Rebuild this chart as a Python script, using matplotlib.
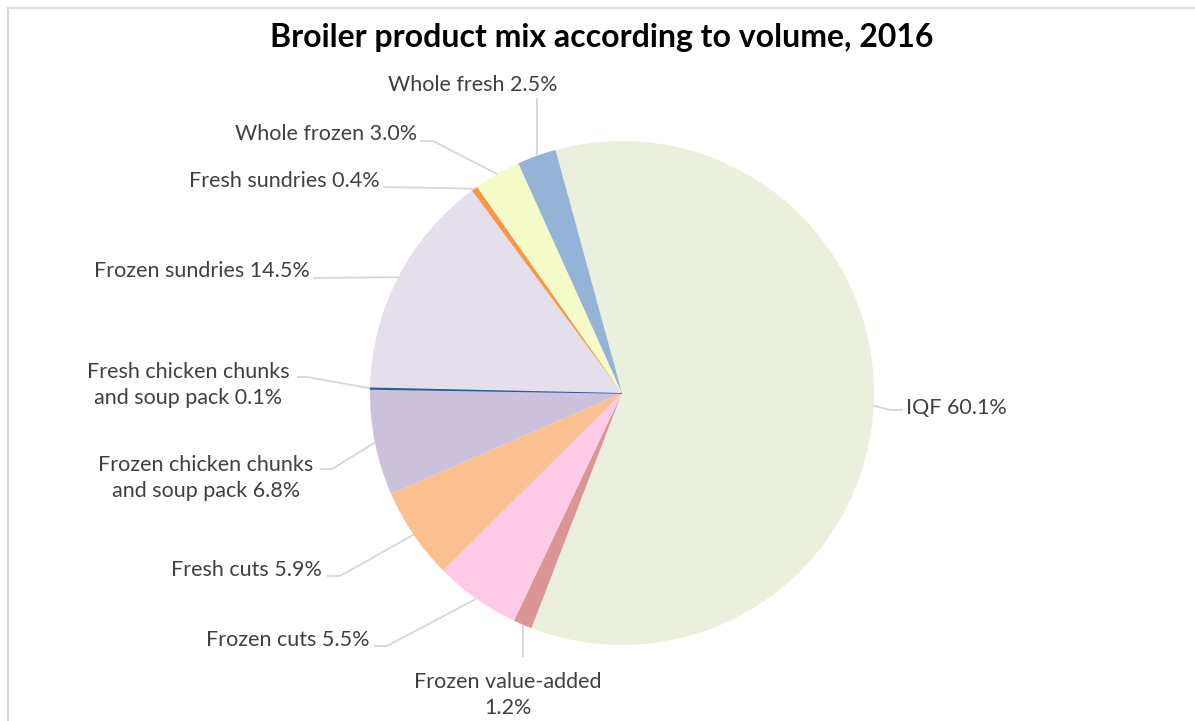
import numpy as np
import matplotlib
matplotlib.use("Agg")
import matplotlib.pyplot as plt

plt.rcParams['font.family'] = ['Lato', 'DejaVu Sans']

# --- data (clockwise from the IQF slice) ---
categories = ['IQF', 'Frozen value-added', 'Frozen cuts', 'Fresh cuts',
              'Frozen chicken chunks\nand soup pack', 'Fresh chicken chunks\nand soup pack',
              'Frozen sundries', 'Fresh sundries', 'Whole frozen', 'Whole fresh']
shares = [60.1, 1.2, 5.5, 5.9, 6.8, 0.1, 14.5, 0.4, 3.0, 2.5]
colors = ['#EBF0DE', '#D99694', '#FECAE6', '#FAC090', '#CCC1DA',
          '#2F5C94', '#E5DFEC', '#F79646', '#F5FBC8', '#95B3D7']

W, H = 1195, 721
CX, CY, R = 622, 393, 252
TEXT = '#404040'
LINE = '#D6D6D6'


def Y(y):
    # pixel row (top-down) to axes y (bottom-up)
    return H - y


fig = plt.figure(figsize=(W / 100, H / 100), dpi=100)
ax = fig.add_axes([0, 0, 1, 1])

wedges, _ = ax.pie(shares, colors=colors, startangle=105.3, counterclock=False,
                   center=(CX, Y(CY)), radius=R, wedgeprops=dict(linewidth=0))
wedges[5].set_edgecolor(colors[5])
wedges[5].set_linewidth(1.0)

ax.set_xlim(0, W)
ax.set_ylim(0, H)
ax.set_aspect('equal')
ax.axis('off')

# label layout: text anchor, alignment, leader stub points (pixels)
layout = [
    ((906, 408), 'left', 'center', [(903, 410), (890, 410)]),
    ((508, 695), 'center', 'center', [('e', 657)]),
    ((370, 640), 'right', 'center', [(374, 646), (387, 646)]),
    ((322, 570), 'right', 'center', [(327, 576), (340, 576)]),
    ((206, 478), 'center', 'center', [(320, 469), (332, 469)]),
    ((188, 385), 'center', 'center', [(297, 377), (307, 377)]),
    ((310, 271), 'right', 'center', [(313, 278)]),
    ((380, 181), 'right', 'center', [(383, 187)]),
    ((417, 134), 'right', 'center', [(420, 141), (433, 141)]),
    ((473, 85), 'center', 'center', [('e', 98)]),
]

for w, name, val, (pos, ha, va, stub) in zip(wedges, categories, shares, layout):
    mid = np.deg2rad((w.theta1 + w.theta2) / 2)
    ex = CX + R * np.cos(mid)
    ey = Y(CY) + R * np.sin(mid)
    pts = [(ex if px == 'e' else px, Y(py)) for px, py in stub] + [(ex, ey)]
    xs, ys = zip(*pts)
    ax.plot(xs, ys, color=LINE, lw=1.3, solid_capstyle='butt', zorder=1)
    if '\n' in name:
        label = name + f' {val:.1f}%'
    elif name == 'Frozen value-added':
        label = name + f'\n{val:.1f}%'
    else:
        label = f'{name} {val:.1f}%'
    ax.text(pos[0], Y(pos[1]), label, ha=ha, va=va, color=TEXT,
            fontsize=15.5, linespacing=1.4, multialignment='center' if ha == 'center' else 'right')

ax.text(602, Y(37), 'Broiler product mix according to volume, 2016', ha='center', va='center',
        fontsize=23, fontweight='bold', color='black')

# chart frame
ax.plot([8, 8, W], [0, Y(8), Y(8)], color='#D9D9D9', lw=1.5, solid_joinstyle='miter')

fig.savefig('out.png', dpi=100)
